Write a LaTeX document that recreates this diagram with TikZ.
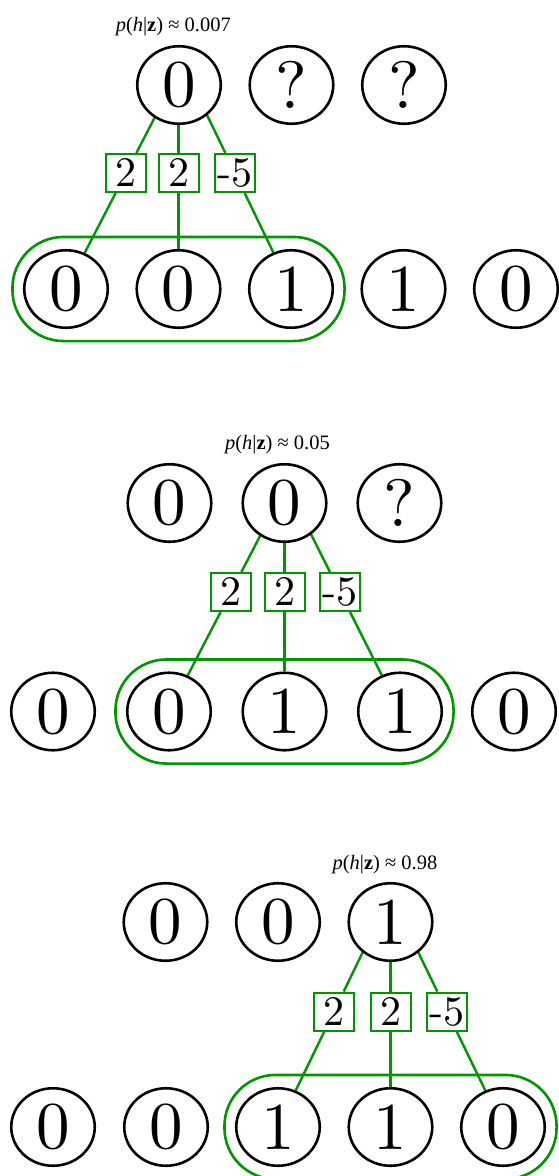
\documentclass[tikz,border=0pt]{standalone}
\usepackage{fontspec}
\newfontfamily\probfont{Liberation Serif}
\newfontfamily\digitfont{lmroman10-regular.otf}
\usetikzlibrary{shapes.geometric,fit,calc,backgrounds}
\definecolor{linkgreen}{RGB}{0,150,0}
\newcommand{\posterior}[1]{\textit{p}(\textit{h}|\textbf{z})~≈~#1}
\tikzset{
  unit/.style={ellipse, draw=black, line width=2.6pt, fill=white,
    minimum width=83.5pt, minimum height=77.5pt, inner sep=0pt,
    font=\digitfont\fontsize{67}{67}\selectfont},
  weight/.style={rectangle, draw=linkgreen, line width=2pt, fill=white,
    minimum width=40pt, minimum height=38pt, inner sep=0pt,
    font=\digitfont\fontsize{42}{42}\selectfont},
  link/.style={draw=linkgreen, line width=2.4pt},
  group/.style={rectangle, draw=linkgreen, line width=2.6pt,
    rounded corners=51pt, inner xsep=10.5pt, inner ysep=12pt},
  prob/.style={font=\probfont\fontsize{20.5}{20.5}\selectfont, inner sep=0pt},
}
\begin{document}
\begin{tikzpicture}[x=1pt,y=-1pt]
\useasboundingbox (0,0) rectangle (559,1176);

% ---------- first configuration ----------
\node[unit] (p1t1) at (179,85) {0};
\node[unit] (p1t2) at (291.5,85) {?};
\node[unit] (p1t3) at (404,85) {?};
\node[unit] (p1b1) at (66,289) {0};
\node[unit] (p1b2) at (178.5,289) {0};
\node[unit] (p1b3) at (291,289) {1};
\node[unit] (p1b4) at (403.5,289) {1};
\node[unit] (p1b5) at (516,289) {0};
\node[weight] (p1w1) at (126,173) {2};
\node[weight] (p1w2) at (178.5,173) {2};
\node[weight] (p1w3) at (235,173) {-5};
\node[prob] (p1p) at (173.3,27) {\posterior{0.007}};

% ---------- second configuration ----------
\node[unit] (p2t1) at (169.5,503) {0};
\node[unit] (p2t2) at (284.5,503) {0};
\node[unit] (p2t3) at (399.5,503) {?};
\node[unit] (p2b1) at (53,711.5) {0};
\node[unit] (p2b2) at (169,711.5) {0};
\node[unit] (p2b3) at (284.5,711.5) {1};
\node[unit] (p2b4) at (400,711.5) {1};
\node[unit] (p2b5) at (514,711.5) {0};
\node[weight] (p2w1) at (231,592) {2};
\node[weight] (p2w2) at (284.5,592) {2};
\node[weight] (p2w3) at (340,592) {-5};
\node[prob] (p2p) at (277.5,444.5) {\posterior{0.05}};

% ---------- third configuration ----------
\node[unit] (p3t1) at (165.5,922) {0};
\node[unit] (p3t2) at (278,922) {0};
\node[unit] (p3t3) at (390.5,922) {1};
\node[unit] (p3b1) at (53,1127) {0};
\node[unit] (p3b2) at (166,1127) {0};
\node[unit] (p3b3) at (278,1127) {1};
\node[unit] (p3b4) at (390.5,1127) {1};
\node[unit] (p3b5) at (503,1127) {0};
\node[weight] (p3w1) at (334,1011.5) {2};
\node[weight] (p3w2) at (390.5,1011.5) {2};
\node[weight] (p3w3) at (447,1011.5) {-5};
\node[prob] (p3p) at (385,865) {\posterior{0.98}};

\begin{pgfonlayer}{background}
  % receptive fields
  \node[group, fit=(p1b1)(p1b3)] (p1g) {};
  \node[group, fit=(p2b2)(p2b4)] (p2g) {};
  \node[group, fit=(p3b3)(p3b5)] (p3g) {};
  % each connection runs straight from a visible unit through its weight
  % and ends under the hidden unit, which covers the rest
  \coordinate (p1e1) at ($(p1b1)!1.75!(p1w1)$);
  \coordinate (p1e2) at ($(p1b2)!1.75!(p1w2)$);
  \coordinate (p1e3) at ($(p1b3)!1.75!(p1w3)$);
  \coordinate (p2e1) at ($(p2b2)!1.75!(p2w1)$);
  \coordinate (p2e2) at ($(p2b3)!1.75!(p2w2)$);
  \coordinate (p2e3) at ($(p2b4)!1.75!(p2w3)$);
  \coordinate (p3e1) at ($(p3b3)!1.75!(p3w1)$);
  \coordinate (p3e2) at ($(p3b4)!1.75!(p3w2)$);
  \coordinate (p3e3) at ($(p3b5)!1.75!(p3w3)$);
  \draw[link] (p1b1) -- (p1w1) -- (p1e1);
  \draw[link] (p1b2) -- (p1w2) -- (p1e2);
  \draw[link] (p1b3) -- (p1w3) -- (p1e3);
  \draw[link] (p2b2) -- (p2w1) -- (p2e1);
  \draw[link] (p2b3) -- (p2w2) -- (p2e2);
  \draw[link] (p2b4) -- (p2w3) -- (p2e3);
  \draw[link] (p3b3) -- (p3w1) -- (p3e1);
  \draw[link] (p3b4) -- (p3w2) -- (p3e2);
  \draw[link] (p3b5) -- (p3w3) -- (p3e3);
\end{pgfonlayer}
\end{tikzpicture}
\end{document}
